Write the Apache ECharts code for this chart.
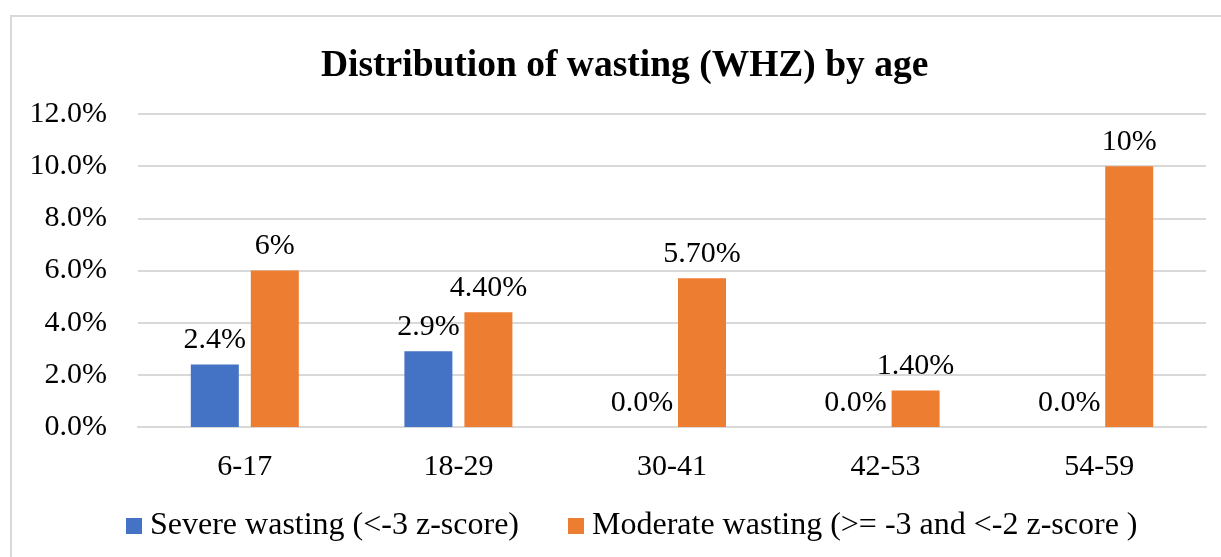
<!DOCTYPE html>
<html>
<head>
<meta charset="utf-8">
<script src="https://cdn.jsdelivr.net/npm/echarts@6/dist/echarts.min.js"></script>
<style>
	html, body { margin: 0; padding: 0; background: #ffffff; }
	#chart { width: 1221px; height: 557px; }
</style>
</head>
<body>
<div id="chart"></div>
<script>
const ageGroups = ['6-17', '18-29', '30-41', '42-53', '54-59'];
const severeValues = [2.4, 2.9, 0, 0, 0];
const moderateValues = [6, 4.4, 5.7, 1.4, 10];
const severeLabels = ['2.4%', '2.9%', '0.0%', '0.0%', '0.0%'];
const moderateLabels = ['6%', '4.40%', '5.70%', '1.40%', '10%'];
const yTicks = [0, 2, 4, 6, 8, 10, 12];

const serif = "'Liberation Serif', 'Times New Roman', serif";

const chart = echarts.init(document.getElementById('chart'));
const option = {
	animation: false,
	textStyle: { fontFamily: serif },
	// light frame round the chart, like the Excel chart area
	graphic: [{
		type: 'rect',
		shape: { x: 11, y: 16, width: 1300, height: 700 },
		style: { fill: 'none', stroke: '#d9d9d9', lineWidth: 2 },
		silent: true
	}],
	title: {
		text: 'Distribution of wasting (WHZ) by age',
		left: 316,
		top: 42,
		textStyle: {
			fontFamily: serif,
			fontWeight: 'bold',
			fontSize: 37.5,
			color: '#000000'
		}
	},
	legend: {
		left: 121,
		top: 505,
		itemWidth: 16,
		itemHeight: 16,
		itemGap: 49,
		icon: 'rect',
		textStyle: {
			fontFamily: serif,
			fontSize: 32,
			color: '#000000',
			padding: [0, 0, 0, 3]
		}
	},
	grid: {
		left: 138,
		right: 15,
		top: 114,
		bottom: 130,
		containLabel: false
	},
	xAxis: {
		type: 'category',
		data: ageGroups,
		axisTick: { show: false },
		axisLine: {
			lineStyle: { color: '#d9d9d9', width: 2 }
		},
		axisLabel: {
			color: '#000000',
			fontFamily: serif,
			fontSize: 30,
			margin: 25
		}
	},
	yAxis: {
		type: 'value',
		min: yTicks[0],
		max: yTicks[yTicks.length - 1],
		interval: 2,
		axisLine: { show: false },
		axisTick: { show: false },
		splitLine: {
			lineStyle: { color: '#d9d9d9', width: 2 }
		},
		axisLabel: {
			color: '#000000',
			fontFamily: serif,
			fontSize: 30,
			margin: 31,
			formatter: function (v) { return v.toFixed(1) + '%'; }
		}
	},
	series: [{
		name: 'Severe wasting (<-3 z-score)',
		type: 'bar',
		data: severeValues,
		barWidth: 48,
		barGap: '25%',
		itemStyle: { color: '#4472c4' },
		label: {
			show: true,
			position: 'top',
			distance: 9,
			color: '#000000',
			fontFamily: serif,
			fontSize: 30,
			formatter: function (p) { return severeLabels[p.dataIndex]; }
		}
	}, {
		name: 'Moderate wasting (>= -3 and <-2 z-score )',
		type: 'bar',
		data: moderateValues,
		barWidth: 48,
		barGap: '25%',
		itemStyle: { color: '#ed7d31' },
		label: {
			show: true,
			position: 'top',
			distance: 9,
			color: '#000000',
			fontFamily: serif,
			fontSize: 30,
			formatter: function (p) { return moderateLabels[p.dataIndex]; }
		}
	}]
};
chart.setOption(option);
</script>
</body>
</html>
